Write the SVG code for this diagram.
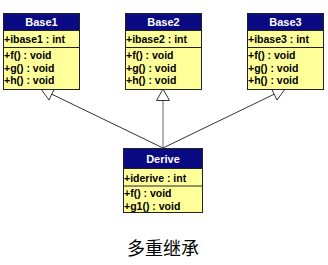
<svg xmlns="http://www.w3.org/2000/svg" width="328" height="265" viewBox="0 0 328 265">
<style>
.box{fill:#ffff99;stroke:#222;stroke-width:1}
.hdr{fill:#0a0a82;stroke:#222;stroke-width:1}
.sep{stroke:#222;stroke-width:1}
.t{font-family:"Liberation Sans",Arial,sans-serif;font-weight:bold;font-size:10.5px;fill:#000}
.h{font-family:"Liberation Sans",Arial,sans-serif;font-weight:bold;font-size:11px;fill:#fff;text-anchor:middle}
.ln{stroke:#333;stroke-width:1;fill:none}
.tri{fill:#fff;stroke:#333;stroke-width:1}
.cap{font-family:"Noto Sans CJK SC",sans-serif;font-size:18px;fill:#000;text-anchor:middle}
</style>
<g id="connectors">
<line class="ln" x1="51.8" y1="94.2" x2="163" y2="148"/>
<polygon class="tri" points="41,89 49,100 54.6,88.4"/>
<line class="ln" x1="163" y1="100.5" x2="163" y2="148" style="stroke:#666"/>
<polygon class="tri" points="163,89 156.5,100.5 169.5,100.5"/>
<line class="ln" x1="274.2" y1="94.2" x2="163" y2="148"/>
<polygon class="tri" points="285,89 277,100 271.4,88.4"/>
</g>
<g id="Base1">
<rect class="box" x="3.5" y="13.5" width="76" height="76"/>
<rect class="hdr" x="3.5" y="13.5" width="76" height="17"/>
<line class="sep" x1="3.5" y1="47.5" x2="79.5" y2="47.5"/>
<text class="h" x="41.5" y="26">Base1</text>
<text class="t" x="4" y="43">+ibase1 : int</text>
<text class="t" x="4" y="59">+f() : void</text>
<text class="t" x="4" y="71.5">+g() : void</text>
<text class="t" x="4" y="84">+h() : void</text>
</g>
<g id="Base2">
<rect class="box" x="125.5" y="13.5" width="76" height="76"/>
<rect class="hdr" x="125.5" y="13.5" width="76" height="17"/>
<line class="sep" x1="125.5" y1="47.5" x2="201.5" y2="47.5"/>
<text class="h" x="163.5" y="26">Base2</text>
<text class="t" x="126" y="43">+ibase2 : int</text>
<text class="t" x="126" y="59">+f() : void</text>
<text class="t" x="126" y="71.5">+g() : void</text>
<text class="t" x="126" y="84">+h() : void</text>
</g>
<g id="Base3">
<rect class="box" x="247.5" y="13.5" width="76" height="76"/>
<rect class="hdr" x="247.5" y="13.5" width="76" height="17"/>
<line class="sep" x1="247.5" y1="47.5" x2="323.5" y2="47.5"/>
<text class="h" x="285.5" y="26">Base3</text>
<text class="t" x="248" y="43">+ibase3 : int</text>
<text class="t" x="248" y="59">+f() : void</text>
<text class="t" x="248" y="71.5">+g() : void</text>
<text class="t" x="248" y="84">+h() : void</text>
</g>
<g id="Derive">
<rect class="box" x="123.5" y="148.5" width="79" height="64"/>
<rect class="hdr" x="123.5" y="148.5" width="79" height="20"/>
<line class="sep" x1="123.5" y1="186" x2="202.5" y2="186"/>
<text class="h" x="163" y="162.5">Derive</text>
<text class="t" x="124" y="181.5">+iderive : int</text>
<text class="t" x="124" y="197">+f() : void</text>
<text class="t" x="124" y="209.5">+g1() : void</text>
</g>
<text class="cap" x="163" y="255">多重继承</text>
</svg>
